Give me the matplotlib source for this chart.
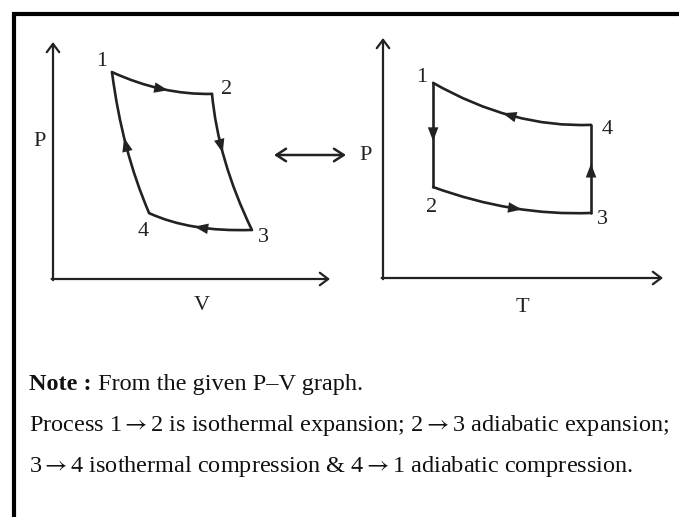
import matplotlib
matplotlib.use("Agg")
import matplotlib.pyplot as plt
from matplotlib.path import Path
from matplotlib.patches import PathPatch

plt.rcParams['font.family'] = ['Liberation Serif', 'DejaVu Serif']
plt.rcParams['mathtext.fontset'] = 'stix'

# P-V cycle, in panel units (0..10 on both axes)
pv_labels = ['1', '2', '3', '4']
pv_v = [2.13, 5.74, 7.18, 3.47]
pv_p = [8.73, 7.81, 2.07, 2.78]
# control points of the curved legs 1-2, 2-3, 3-4, 4-1
pv_ctrl_v = [3.94, 5.96, 4.95, 2.49]
pv_ctrl_p = [7.76, 5.02, 1.98, 5.44]
pv_arrow_t = [0.5, 0.38, 0.45, 0.5]

# P-T cycle
pt_labels = ['1', '2', '3', '4']
pt_t = [1.79, 1.79, 7.43, 7.43]
pt_p = [8.13, 3.79, 2.71, 6.38]
# legs: 1-2 straight, 2-3 curved, 3-4 straight, 4-1 curved
pt_ctrl_t = [None, 4.64, None, 4.61]
pt_ctrl_p = [None, 2.58, None, 6.25]

note_bold = "Note :"
note_line1 = " From the given P\u2013V graph."
note_line2 = r"Process 1$\rightarrow$2 is isothermal expansion; 2$\rightarrow$3 adiabatic expansion;"
note_line3 = r"3$\rightarrow$4 isothermal compression & 4$\rightarrow$1 adiabatic compression."

W, H = 679, 517
fig = plt.figure(figsize=(W / 100, H / 100), dpi=100)
bg = fig.add_axes([0, 0, 1, 1])
bg.set_xlim(0, W)
bg.set_ylim(H, 0)
bg.axis('off')


def panel(x0, y0, x1, y1):
    # x0,y0 = origin pixel, x1 = x-arrow tip, y1 = y-arrow tip
    ax = fig.add_axes([x0 / W, (H - y0) / H, (x1 - x0) / W, (y0 - y1) / H])
    ax.set_xlim(0, 10)
    ax.set_ylim(0, 10)
    ax.axis('off')
    ap = dict(arrowstyle='->,head_length=0.6,head_width=0.45', lw=1.6,
              color='#222222', shrinkA=0, shrinkB=0)
    ax.annotate('', xy=(0, 10), xytext=(0, -0.05), arrowprops=ap, annotation_clip=False)
    ax.annotate('', xy=(10, 0), xytext=(-0.05, 0), arrowprops=ap, annotation_clip=False)
    return ax


def bez(p0, c, p2, t):
    return ((1 - t) ** 2 * p0[0] + 2 * (1 - t) * t * c[0] + t ** 2 * p2[0],
            (1 - t) ** 2 * p0[1] + 2 * (1 - t) * t * c[1] + t ** 2 * p2[1])


def head(ax, tail, tip):
    ax.annotate('', xy=tip, xytext=tail, annotation_clip=False,
                arrowprops=dict(arrowstyle='-|>,head_length=1.0,head_width=0.38',
                                lw=0, color='#222222', shrinkA=0, shrinkB=0))


def leg(ax, p0, p2, c=None, t=0.5):
    if c is None:
        path = Path([p0, p2], [Path.MOVETO, Path.LINETO])
        c = ((p0[0] + p2[0]) / 2, (p0[1] + p2[1]) / 2)
    else:
        path = Path([p0, c, p2], [Path.MOVETO, Path.CURVE3, Path.CURVE3])
    ax.add_patch(PathPatch(path, fc='none', ec='#222222', lw=1.9, capstyle='round',
                           joinstyle='miter', clip_on=False))
    head(ax, bez(p0, c, p2, t + 0.02), bez(p0, c, p2, t + 0.06))


# left panel: P-V
ax1 = panel(53, 279, 330, 42)
for i in range(4):
    j = (i + 1) % 4
    leg(ax1, (pv_v[i], pv_p[i]), (pv_v[j], pv_p[j]),
        (pv_ctrl_v[i], pv_ctrl_p[i]), pv_arrow_t[i])

# right panel: P-T
ax2 = panel(383, 278, 663, 38)
leg(ax2, (pt_t[0], pt_p[0]), (pt_t[1], pt_p[1]))
leg(ax2, (pt_t[1], pt_p[1]), (pt_t[2], pt_p[2]), (pt_ctrl_t[1], pt_ctrl_p[1]))
leg(ax2, (pt_t[2], pt_p[2]), (pt_t[3], pt_p[3]))
leg(ax2, (pt_t[3], pt_p[3]), (pt_t[0], pt_p[0]), (pt_ctrl_t[3], pt_ctrl_p[3]))

lab = dict(fontsize=16, ha='center', va='center', color='#222222')
for name, xy in zip(pv_labels, [(102, 62), (227, 90), (263, 238), (143, 232)]):
    bg.text(xy[0], xy[1], name, **lab)
for name, xy in zip(pt_labels, [(422, 78), (432, 208), (602, 220), (607, 130)]):
    bg.text(xy[0], xy[1], name, **lab)
bg.text(40, 141, 'P', **lab)
bg.text(202, 305, 'V', **lab)
bg.text(366, 155, 'P', **lab)
bg.text(522, 308, 'T', **lab)

# double arrow between panels
bg.annotate('', xy=(346, 155), xytext=(274, 155),
            arrowprops=dict(arrowstyle='<->,head_length=0.7,head_width=0.45', lw=1.8,
                            color='#222222', shrinkA=0, shrinkB=0))

# frame (top and left rules)
bg.plot([12, W], [14, 14], color='black', lw=3.0, solid_capstyle='butt')
bg.plot([14, 14], [12, H], color='black', lw=3.0, solid_capstyle='butt')

# note text
fs = 17.5
tb = bg.text(29, 390, note_bold, fontsize=fs, fontweight='bold', va='baseline', color='#111111')
fig.canvas.draw()
bb = tb.get_window_extent()
bg.text(29 + bb.width, 390, note_line1, fontsize=fs, va='baseline', color='#111111')
bg.text(29, 431, note_line2, fontsize=fs, va='baseline', color='#111111')
bg.text(29, 472, note_line3, fontsize=fs, va='baseline', color='#111111')

fig.savefig('out.png', dpi=100, facecolor='white')
